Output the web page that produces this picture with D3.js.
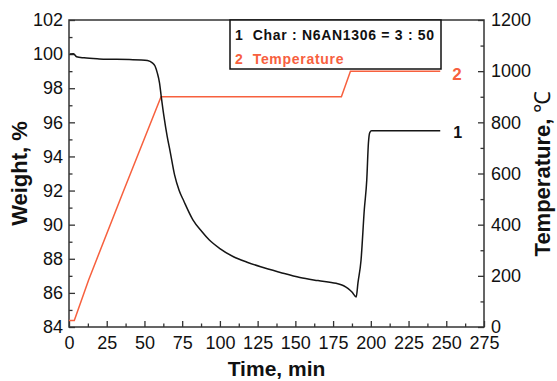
<!DOCTYPE html>
<html>
<head>
<meta charset="utf-8">
<script src="https://cdn.jsdelivr.net/npm/d3@7"></script>
<style>
  body { margin: 0; background: #fff; }
  svg { display: block; font-family: "Liberation Sans", Arial, sans-serif; }
</style>
</head>
<body>
<div id="chart"></div>
<script>
// weight curve (min, %)
const weightTime = [0.5, 3, 5, 10, 20, 30, 40, 48, 52, 55, 57, 58.5, 60, 61, 63, 65, 67, 70, 73, 76, 82, 88, 93, 100, 109, 118, 127, 140, 153, 165, 177, 182, 185, 187.5, 190.3, 191.5, 193.5, 195.7, 197.3, 198.4, 199.3, 200.5, 246];
const weightValues = [100.0, 100.02, 99.85, 99.78, 99.72, 99.7, 99.68, 99.66, 99.62, 99.5, 99.3, 98.9, 98.3, 97.6, 96.3, 95.2, 94.3, 92.9, 92.0, 91.4, 90.3, 89.6, 89.1, 88.6, 88.12, 87.8, 87.53, 87.2, 86.9, 86.72, 86.56, 86.42, 86.25, 86.05, 85.76, 86.6, 87.9, 90.9, 92.6, 94.77, 95.4, 95.5, 95.5];

// temperature programme (min, °C)
const tempTime = [0, 3.5, 13, 36, 61, 180.5, 186.5, 246];
const tempValues = [25, 25, 184, 530, 900, 900, 1000, 1000];

const timeTicks = [0, 25, 50, 75, 100, 125, 150, 175, 200, 225, 250, 275];
const weightTicks = [84, 86, 88, 90, 92, 94, 96, 98, 100, 102];
const tempTicks = [0, 200, 400, 600, 800, 1000, 1200];
const legendLabels = ["1  Char : N6AN1306 = 3 : 50", "2  Temperature"];

const width = 557, height = 381;
const margin = { top: 20, right: 73, bottom: 54, left: 69 };
const innerWidth = width - margin.left - margin.right;
const innerHeight = height - margin.top - margin.bottom;
const red = "#f7603e";
const axisColor = "#333";

const x = d3.scaleLinear().domain([0, 275]).range([0, innerWidth]);
const yW = d3.scaleLinear().domain([84, 102]).range([innerHeight, 0]);
const yT = d3.scaleLinear().domain([0, 1200]).range([innerHeight, 0]);

const svg = d3.select("#chart").append("svg")
  .attr("width", width).attr("height", height);
const root = svg.append("g").attr("transform", `translate(${margin.left},${margin.top})`);

function styleAxis(g) {
  g.select(".domain").remove();
  g.selectAll("line").attr("stroke", axisColor).attr("stroke-width", 1.3);
  g.selectAll("text").attr("fill", "#111").attr("font-size", 18);
}
function minorOnly(g) {
  styleAxis(g);
  g.selectAll("text").remove();
}

// minor ticks
root.append("g").attr("transform", `translate(0,${innerHeight})`)
  .call(d3.axisBottom(x).tickValues(d3.range(12.5, 275, 25)).tickSize(-3.5))
  .call(minorOnly);
root.append("g")
  .call(d3.axisLeft(yW).tickValues(d3.range(85, 102, 2)).tickSize(-3.5))
  .call(minorOnly);
root.append("g").attr("transform", `translate(${innerWidth},0)`)
  .call(d3.axisRight(yT).tickValues(d3.range(100, 1200, 200)).tickSize(-3.5))
  .call(minorOnly);

// major ticks
root.append("g").attr("transform", `translate(0,${innerHeight})`)
  .call(d3.axisBottom(x).tickValues(timeTicks).tickSizeInner(-6).tickSizeOuter(0).tickPadding(9).tickFormat(d3.format("d")))
  .call(styleAxis);
root.append("g")
  .call(d3.axisLeft(yW).tickValues(weightTicks).tickSizeInner(-6).tickSizeOuter(0).tickPadding(6).tickFormat(d3.format("d")))
  .call(styleAxis);
root.append("g").attr("transform", `translate(${innerWidth},0)`)
  .call(d3.axisRight(yT).tickValues(tempTicks).tickSizeInner(-6).tickSizeOuter(0).tickPadding(7).tickFormat(d3.format("d")))
  .call(styleAxis);

// frame
root.append("rect")
  .attr("width", innerWidth).attr("height", innerHeight)
  .attr("fill", "none").attr("stroke", axisColor).attr("stroke-width", 1.5);

// curves
const tempLine = d3.line().x((d, i) => x(tempTime[i])).y(d => yT(d));
root.append("path").datum(tempValues)
  .attr("fill", "none").attr("stroke", red).attr("stroke-width", 1.5)
  .attr("d", tempLine);

const weightLine = d3.line().x((d, i) => x(weightTime[i])).y(d => yW(d)).curve(d3.curveMonotoneX);
root.append("path").datum(weightValues)
  .attr("fill", "none").attr("stroke", "#151515").attr("stroke-width", 1.5)
  .attr("stroke-linejoin", "round")
  .attr("d", weightLine);

// curve labels
root.append("text")
  .attr("x", x(tempTime.at(-1)) + 12).attr("y", yT(tempValues.at(-1)) + 9)
  .attr("fill", red).attr("font-weight", "bold").attr("font-size", 17).text("2");
root.append("text")
  .attr("x", x(weightTime.at(-1)) + 13).attr("y", yW(weightValues.at(-1)) + 7)
  .attr("fill", "#111").attr("font-weight", "bold").attr("font-size", 16).text("1");

// legend
const legend = svg.append("g").attr("transform", "translate(230,20)");
legend.append("rect")
  .attr("width", 211).attr("height", 49)
  .attr("fill", "#fff").attr("stroke", "#111").attr("stroke-width", 1.5);
legend.selectAll("text.leg").data(legendLabels).join("text")
  .attr("class", "leg")
  .attr("x", 5).attr("y", (d, i) => 20 + i * 23.5)
  .attr("font-size", 14).attr("font-weight", "bold")
  .attr("letter-spacing", 0.7)
  .attr("fill", (d, i) => i === 0 ? "#111" : red)
  .attr("xml:space", "preserve")
  .style("white-space", "pre")
  .text(d => d);

// axis titles
svg.append("text")
  .attr("x", margin.left + innerWidth / 2).attr("y", 376)
  .attr("text-anchor", "middle").attr("font-size", 21).attr("font-weight", "bold")
  .attr("fill", "#111").text("Time, min");
svg.append("text")
  .attr("transform", `translate(27,${margin.top + innerHeight / 2}) rotate(-90)`)
  .attr("text-anchor", "middle").attr("font-size", 22).attr("font-weight", "bold")
  .attr("fill", "#111").text("Weight, %");
const tTitle = svg.append("text")
  .attr("transform", `translate(550,${margin.top + innerHeight / 2}) rotate(-90)`)
  .attr("text-anchor", "middle").attr("font-size", 22).attr("font-weight", "bold")
  .attr("fill", "#111");
tTitle.append("tspan").text("Temperature, ");
tTitle.append("tspan").attr("font-weight", "normal").text("℃");
</script>
</body>
</html>
